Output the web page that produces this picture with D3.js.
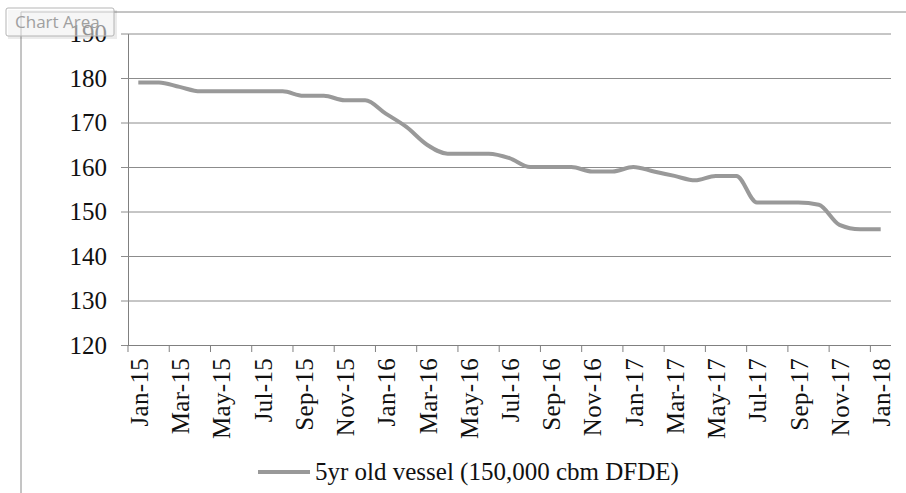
<!DOCTYPE html>
<html>
<head>
<meta charset="utf-8">
<script src="https://cdn.jsdelivr.net/npm/d3@7"></script>
<style>
  body { margin: 0; background: #fff; }
  svg { display: block; }
  .tick text { font-family: "Liberation Serif", "Times New Roman", serif; font-size: 25px; fill: #111; }
</style>
</head>
<body>
<svg id="chart" width="906" height="493"></svg>
<script>
var months = ["Jan-15","Feb-15","Mar-15","Apr-15","May-15","Jun-15","Jul-15","Aug-15","Sep-15","Oct-15","Nov-15","Dec-15",
              "Jan-16","Feb-16","Mar-16","Apr-16","May-16","Jun-16","Jul-16","Aug-16","Sep-16","Oct-16","Nov-16","Dec-16",
              "Jan-17","Feb-17","Mar-17","Apr-17","May-17","Jun-17","Jul-17","Aug-17","Sep-17","Oct-17","Nov-17","Dec-17",
              "Jan-18"];
var values = [179, 179, 178, 177, 177, 177, 177, 177, 176, 176, 175, 175,
              172, 169, 165, 163, 163, 163, 162, 160, 160, 160, 159, 159,
              160, 159, 158, 157, 158, 158, 152, 152, 152, 151.5, 147, 146,
              146];
var yTicks = [120, 130, 140, 150, 160, 170, 180, 190];
var seriesName = "5yr old vessel (150,000 cbm DFDE)";

var svg = d3.select("#chart");
var plotLeft = 128, plotRight = 891, plotTop = 33.5, plotBottom = 345;

// outer chart area border
svg.append("path")
  .attr("d", "M21,493 V12 H906")
  .attr("fill", "none")
  .attr("stroke", "#8a8a8a")
  .attr("stroke-width", 1);

var x = d3.scaleBand().domain(months).range([plotLeft, plotRight]).paddingInner(0).paddingOuter(0);
var y = d3.scaleLinear().domain([120, 190]).range([plotBottom, plotTop]);
var bw = x.bandwidth();

// y axis + gridlines
var gy = svg.append("g")
  .attr("transform", "translate(" + plotLeft + ",0)")
  .call(d3.axisLeft(y).tickValues(yTicks).tickSize(0).tickPadding(0));
gy.select(".domain").attr("stroke", "#808080");
gy.selectAll(".tick line")
  .attr("x1", -7).attr("x2", plotRight - plotLeft)
  .attr("stroke", "#8c8c8c");
gy.selectAll(".tick text")
  .attr("x", -21)
  .attr("dy", "0.33em");

// x axis
var gx = svg.append("g")
  .attr("transform", "translate(0," + plotBottom + ")")
  .call(d3.axisBottom(x).tickValues(months.filter(function(d, i) { return i % 2 == 0; })).tickSize(0).tickPadding(0));
gx.select(".domain").attr("stroke", "#808080").attr("d", "M" + plotLeft + ",0.5H" + plotRight);
gx.selectAll(".tick line")
  .attr("x1", -bw / 2).attr("x2", -bw / 2)
  .attr("y1", 0).attr("y2", 7)
  .attr("stroke", "#808080");
gx.selectAll(".tick text")
  .attr("y", 0).attr("x", 0)
  .attr("dy", "0.34em")
  .attr("text-anchor", "end")
  .style("letter-spacing", "0.3px")
  .attr("transform", "translate(1,13) rotate(-90)");

// line
var line = d3.line()
  .x(function(d, i) { return x(months[i]) + bw / 2; })
  .y(function(d) { return y(d); })
  .curve(d3.curveMonotoneX);

svg.append("path")
  .datum(values)
  .attr("d", line)
  .attr("fill", "none")
  .attr("stroke", "#999999")
  .attr("stroke-width", 4)
  .attr("stroke-linejoin", "round");

// legend
var lg = svg.append("g").attr("transform", "translate(258,472)");
lg.append("line")
  .attr("x1", 0).attr("x2", 52).attr("y1", 0).attr("y2", 0)
  .attr("stroke", "#999999").attr("stroke-width", 4);
lg.append("text")
  .attr("x", 57).attr("y", 0).attr("dy", "0.33em")
  .style("font-family", "'Liberation Serif', 'Times New Roman', serif")
  .style("font-size", "25px")
  .style("fill", "#111")
  .text(seriesName);

// "Chart Area" tooltip
var tip = svg.append("g").attr("transform", "translate(6,8)");
tip.append("rect")
  .attr("x", 2).attr("y", 2).attr("width", 109).attr("height", 29)
  .attr("fill", "#000").attr("opacity", 0.08);
tip.append("rect")
  .attr("x", 0).attr("y", 0).attr("width", 108).attr("height", 28).attr("rx", 2)
  .attr("fill", "#fff").attr("fill-opacity", 0.55)
  .attr("stroke", "#b5b5b5");
tip.append("text")
  .attr("x", 9).attr("y", 20)
  .style("font-family", "'Open Sans', 'DejaVu Sans', sans-serif")
  .style("font-size", "17px")
  .style("fill", "#a0a0a0")
  .text("Chart Area");
</script>
</body>
</html>
